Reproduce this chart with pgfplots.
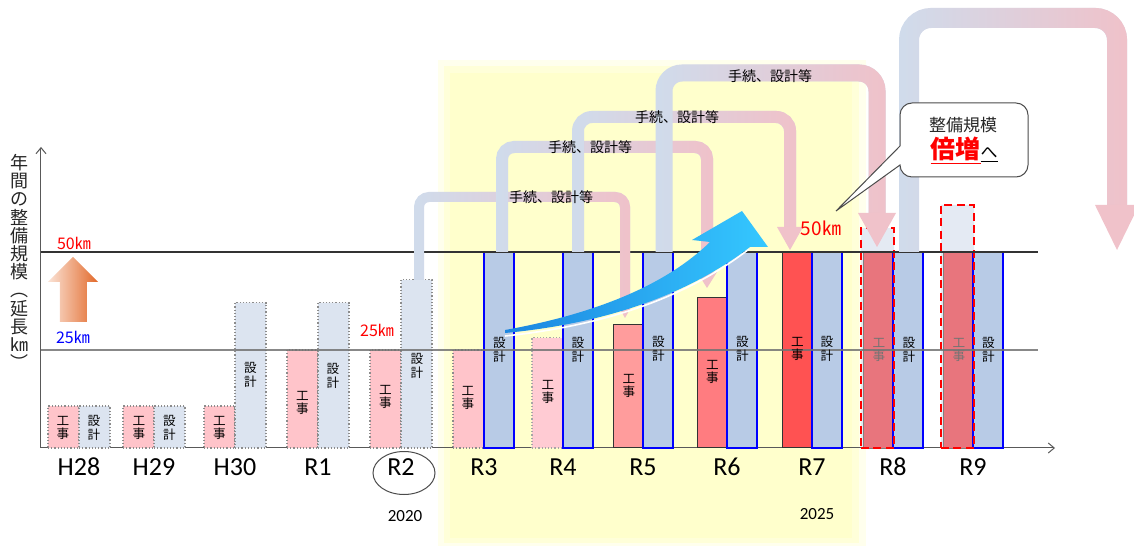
\documentclass[border=0pt]{standalone}
\usepackage{fontspec}
\setmainfont{Carlito}
\newfontfamily\jp{Noto Sans CJK JP}
\usepackage{pgfplots}
\pgfplotsset{compat=1.18}
\usetikzlibrary{arrows.meta,fadings}

\definecolor{koujiA}{HTML}{FFC4CA}
\definecolor{koujiB}{HTML}{FFCBD3}
\definecolor{koujiR5}{HTML}{FF9C9C}
\definecolor{koujiR6}{HTML}{FF7C80}
\definecolor{koujiR7}{HTML}{FF5252}
\definecolor{koujiR8}{HTML}{E8757D}
\definecolor{sekkeiA}{HTML}{DCE4F0}
\definecolor{sekkeiB}{HTML}{B8CBE6}
\definecolor{target}{HTML}{E4EAF3}
\definecolor{yel}{HTML}{FFFFCC}
\definecolor{flowblue}{HTML}{D0DCEC}
\definecolor{flowpink}{HTML}{F0C2CA}
\definecolor{swA}{HTML}{1C86E0}
\definecolor{swB}{HTML}{35C8FF}
\definecolor{orA}{HTML}{FBE3D6}
\definecolor{orB}{HTML}{E2692A}

\tikzfading[name=flowfade, left color=transparent!100, middle color=transparent!75, right color=transparent!0]

% vertical two-character labels inside the bars
\newcommand{\vlab}[3]{\node[font=\jp\fontsize{6.3}{6.6}\selectfont, align=center, inner sep=0pt, #3] at (#1) {#2};}

\begin{document}
\begin{tikzpicture}
\begin{axis}[
    set layers=standard,
    x=0.5pt, y=1.96pt,
    xmin=41, xmax=1055, ymin=0, ymax=76.8,
    axis lines=left,
    axis line style={-{Straight Barb[length=3pt,width=5pt]}, black!65, line width=0.5pt},
    ytick=\empty,
    xtick={79,154,235,318,401,484,563,643,727,812,893,973},
    xticklabels={H28,H29,H30,R1,R2,R3,R4,R5,R6,R7,R8,R9},
    major tick length=0pt,
    xticklabel style={font=\fontsize{13}{13}\selectfont, anchor=center, yshift=-9.5pt},
    clip=false,
]
% yellow period band R3-R7
\pgfonlayer{axis background}
\fill[yel, opacity=0.35] (axis cs:438,98.98) rectangle (axis cs:866,-25);
\fill[yel, opacity=0.6] (axis cs:444,97.45) rectangle (axis cs:859,-24.2);
\fill[yel] (axis cs:450,95.66) rectangle (axis cs:852,-23.0);
\endpgfonlayer

% 工事 (construction), earlier years
\addplot[ybar, bar width=31, bar shift=-15.5, fill=koujiA, draw=black!45, densely dotted, line width=0.6pt]
coordinates {(79,10.7) (154,10.7) (235,10.7) (318,25) (401,25) (484,25)};
\addplot[ybar, bar width=31, bar shift=-15.5, fill=koujiB, draw=black!35, densely dotted, line width=0.6pt]
coordinates {(563,28.1)};
% 設計 (design), earlier years
\addplot[ybar, bar width=31, bar shift=15.5, fill=sekkeiA, draw=black!45, densely dotted, line width=0.6pt]
coordinates {(79,10.7) (154,10.7) (235,37.1) (318,37.1) (401,42.9)};
% 工事 R5-R7
\addplot[ybar, bar width=30, bar shift=-15, fill=koujiR5, draw=black!80, line width=0.5pt]
coordinates {(643,31.6)};
\addplot[ybar, bar width=30, bar shift=-15, fill=koujiR6, draw=black!80, line width=0.5pt]
coordinates {(727,38.3)};
\addplot[ybar, bar width=30, bar shift=-15, fill=koujiR7, draw=black!80, line width=0.5pt]
coordinates {(812,50)};
% target box R8-R9 (fill), bars, outline
\addplot[ybar, bar width=33, bar shift=-15.5, fill=target, draw=none]
coordinates {(893,56.1) (973,62)};
\addplot[ybar, bar width=29, bar shift=-15, fill=koujiR8, draw=black!50, line width=0.4pt]
coordinates {(893,50) (973,50)};
% 設計 R3-R9
\addplot[ybar, bar width=30, bar shift=15, fill=sekkeiB, draw=blue, line width=0.8pt]
coordinates {(484,50) (563,50) (643,50) (727,50) (812,50) (893,50) (973,50)};
\addplot[ybar, bar width=33, bar shift=-15.5, fill=none, draw=red, line width=1.1pt, dash pattern=on 4pt off 2.2pt]
coordinates {(893,56.1) (973,62)};

% 25 km and 50 km reference lines
\draw[black!80, line width=0.55pt] (axis cs:41,50) -- (axis cs:1038,50);
\draw[black!55, line width=0.55pt, opacity=0.85] (axis cs:41,25) -- (axis cs:1038,25);

\coordinate (P0) at (axis cs:0,114.2857);
\end{axis}

% annotations in pixel units (origin at the top-left corner of the picture)
\begin{scope}[shift={(P0)}, x=0.5pt, y=-0.5pt]
  % flow arrows 手続、設計等
  \foreach \xa/\ya/\yh/\xb/\yb/\lw/\rc in {419/280/197/625/304/5/5, 502/252/147/707/274/6/6, 578/252/117/790/229/6/7, 664/252/73/877/215/8.5/9, 909/252/18/1117/207/10/11} {
    \draw[flowblue, line width=\lw pt, rounded corners=\rc pt] (\xa,\ya) -- (\xa,\yh) -- (\xb,\yh) -- (\xb,\yb);
    \draw[flowpink, line width=\lw pt, rounded corners=\rc pt, path fading=flowfade] (\xa,\ya) -- (\xa,\yh) -- (\xb,\yh) -- (\xb,\yb);
  }
  \fill[flowpink] (616,302) -- (634,302) -- (625,318) -- cycle;
  \fill[flowpink] (697,272) -- (717,272) -- (707,288) -- cycle;
  \fill[flowpink] (777,227) -- (803,227) -- (790,250) -- cycle;
  \fill[flowpink] (858,213) -- (896,213) -- (877,247) -- cycle;
  \fill[flowpink] (1095,205) -- (1139,205) -- (1117,250) -- cycle;
  \foreach \px/\py in {551/197, 590/147, 677/117, 770/76}
    \node[font=\jp\fontsize{7}{7}\selectfont, inner sep=0pt] at (\px,\py) {手続、設計等};

  % rising swoosh
  \draw[white, line width=0.8pt] (749,249) .. controls (690,295) and (610,325) .. (505,336);
  \shade[left color=swA, right color=swB]
    (505,330) .. controls (600,313) and (668,283) .. (710,242) -- (692,240) -- (742,211)
    -- (768,247) -- (750,247) .. controls (690,293) and (610,323) .. (505,333) -- cycle;

  % orange arrow
  \shade[left color=orA, right color=orB]
    (60,322) -- (60,282) -- (48,282) -- (73,257) -- (98,282) -- (87,282) -- (87,322) -- cycle;

  % y label
  \node[font=\jp\fontsize{9}{9.1}\selectfont, align=center, inner sep=0pt, text=black!85] at (20,262)
    {年\\間\\の\\整\\備\\規\\模\\︵\\延\\長\\㎞\\︶};

  % km labels
  \node[font=\jp\fontsize{8}{8}\selectfont, text=red, inner sep=0pt] at (74,243) {50㎞};
  \node[font=\jp\fontsize{8}{8}\selectfont, text=blue, inner sep=0pt] at (73,337) {25㎞};
  \node[font=\jp\fontsize{8}{8}\selectfont, text=red, inner sep=0pt] at (377,330) {25㎞};
  \node[font=\jp\fontsize{9.5}{9.5}\selectfont, text=red, inner sep=0pt] at (821,228) {50㎞};

  % bar labels
  \foreach \px/\py in {63/428, 139/428, 219.5/428, 302.5/403, 385.5/397, 468/398, 548/392, 629/386, 712.5/372, 797.5/349}
    \vlab{\px,\py}{工\\事}{};
  \foreach \px in {879, 959}
    \vlab{\px,350}{工\\事}{text=black!55};
  \foreach \px/\py in {94/428, 169.5/428, 250.5/375, 333/376, 417/366, 499.5/350, 578/350, 658.5/349, 742.5/349, 827/349, 909/350, 988.5/350}
    \vlab{\px,\py}{設\\計}{};

  % R2 circle and years
  \draw[black!70, line width=0.5pt] (404,473) ellipse [x radius=31, y radius=21.5];
  \node[font=\fontsize{8.5}{8.5}\selectfont, inner sep=0pt] at (405,516) {2020};
  \node[font=\fontsize{8.5}{8.5}\selectfont, inner sep=0pt] at (817,514) {2025};

  % callout
  \draw[black!70, fill=white, line width=0.5pt, rounded corners=6pt]
    (900,177) [sharp corners] -- (900,165) -- (836,211) -- (900,146) [rounded corners=6pt] -- (900,103) -- (1028,103) -- (1028,177) -- cycle;
  \node[font=\jp\fontsize{8.5}{8.5}\selectfont, text=black!85, inner sep=0pt] at (963,125) {整備規模};
  \node[inner sep=0pt] at (964,151)
    {\textcolor{red}{\jp\bfseries\fontsize{12.5}{12.5}\selectfont\underline{倍増}}{\jp\fontsize{8.5}{8.5}\selectfont\underline{へ}}};
\end{scope}

\pgfresetboundingbox
\path[use as bounding box] (P0) rectangle ([shift={(567pt,-273pt)}]P0);
\end{tikzpicture}
\end{document}
